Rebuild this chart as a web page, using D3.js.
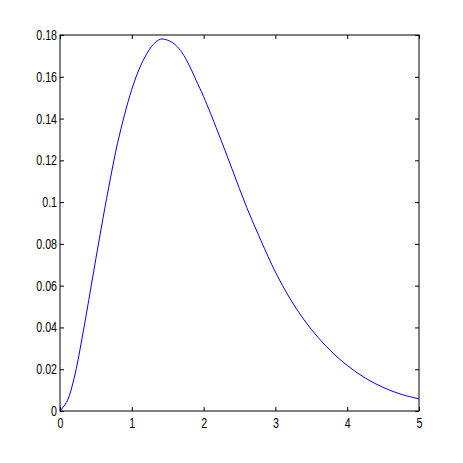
<!DOCTYPE html>
<html>
<head>
<meta charset="utf-8">
<script src="https://cdn.jsdelivr.net/npm/d3@7"></script>
<style>
  html, body { margin: 0; padding: 0; background: #fff; }
  svg { display: block; }
  .tick text { font-family: "Liberation Sans", Arial, Helvetica, sans-serif; font-size: 14px; fill: #000; }
</style>
</head>
<body>
<svg id="chart" width="463" height="463"></svg>
<script>
// Data
const xValues = [0, 0.1, 0.2, 0.3, 0.4, 0.5, 0.6, 0.7, 0.8, 0.9, 1.0, 1.1, 1.2, 1.3, 1.4, 1.5, 1.6, 1.7, 1.8, 1.9, 2.0, 2.2, 2.4, 2.6, 2.8, 3.0, 3.2, 3.4, 3.6, 3.8, 4.0, 4.25, 4.5, 4.75, 5.0];
const yValues = [0, 0.0048, 0.0162, 0.0335, 0.0530, 0.0730, 0.0925, 0.1110, 0.1280, 0.1420, 0.1540, 0.1635, 0.1705, 0.1755, 0.1780, 0.1775, 0.1755, 0.1715, 0.1655, 0.1580, 0.1505, 0.1335, 0.1155, 0.0975, 0.0815, 0.0665, 0.0540, 0.0436, 0.0350, 0.0278, 0.0218, 0.0158, 0.0113, 0.0080, 0.0058];
const xTicks = [0, 1, 2, 3, 4, 5];
const yTicks = [0, 0.02, 0.04, 0.06, 0.08, 0.1, 0.12, 0.14, 0.16, 0.18];

const margin = { left: 60, top: 35, right: 44, bottom: 52 };
const W = 463, H = 463;
const svg = d3.select("#chart");

const x = d3.scaleLinear().domain([0, 5]).range([margin.left, W - margin.right]);
const y = d3.scaleLinear().domain([0, 0.18]).range([H - margin.bottom, margin.top]);

const fmt = d => (d === 0 ? "0" : String(+d.toFixed(2)));

function condense(g) {
  g.selectAll("text").each(function () {
    const w = this.getComputedTextLength();
    d3.select(this).attr("textLength", w * 0.76).attr("lengthAdjust", "spacingAndGlyphs");
  });
}

// bottom axis
svg.append("g")
  .attr("transform", `translate(0,${y(0)})`)
  .call(d3.axisBottom(x).tickValues(xTicks).tickFormat(fmt).tickSizeInner(-4).tickSizeOuter(0).tickPadding(7))
  .call(g => g.select(".domain").remove())
  .call(g => g.selectAll("line").attr("stroke", "#000"))
  .call(condense);

// left axis
svg.append("g")
  .attr("transform", `translate(${x(0)},0)`)
  .call(d3.axisLeft(y).tickValues(yTicks).tickFormat(fmt).tickSizeInner(-4).tickSizeOuter(0).tickPadding(3))
  .call(g => g.select(".domain").remove())
  .call(g => g.selectAll("line").attr("stroke", "#000"))
  .call(condense);

// top axis (ticks only)
svg.append("g")
  .attr("transform", `translate(0,${y(0.18)})`)
  .call(d3.axisTop(x).tickValues(xTicks).tickFormat("").tickSizeInner(-4).tickSizeOuter(0))
  .call(g => g.select(".domain").remove())
  .call(g => g.selectAll("line").attr("stroke", "#000"));

// right axis (ticks only)
svg.append("g")
  .attr("transform", `translate(${x(5)},0)`)
  .call(d3.axisRight(y).tickValues(yTicks).tickFormat("").tickSizeInner(-4).tickSizeOuter(0))
  .call(g => g.select(".domain").remove())
  .call(g => g.selectAll("line").attr("stroke", "#000"));

// box
svg.append("rect")
  .attr("x", x(0)).attr("y", y(0.18))
  .attr("width", x(5) - x(0)).attr("height", y(0) - y(0.18))
  .attr("fill", "none").attr("stroke", "#000").attr("stroke-width", 1);

// curve
const pts = xValues.map((v, i) => [v, yValues[i]]);
svg.append("path")
  .datum(pts)
  .attr("fill", "none")
  .attr("stroke", "#0000ff")
  .attr("stroke-width", 1)
  .attr("d", d3.line().x(d => x(d[0])).y(d => y(d[1])).curve(d3.curveCatmullRom.alpha(0.5)));
</script>
</body>
</html>
